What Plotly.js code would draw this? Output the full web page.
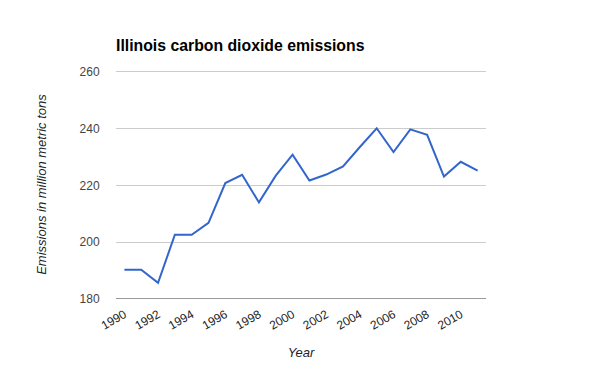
<!DOCTYPE html>
<html>
<head>
<meta charset="utf-8">
<script src="https://cdn.plot.ly/plotly-3.0.1.min.js"></script>
<style>html,body{margin:0;padding:0;background:#fff;}#chart{width:600px;height:371px;}</style>
</head>
<body>
<div id="chart"></div>
<script>
const years = [1990,1991,1992,1993,1994,1995,1996,1997,1998,1999,2000,2001,2002,2003,2004,2005,2006,2007,2008,2009,2010,2011];
const emissions = [190.3,190.3,185.7,202.6,202.6,206.8,220.8,223.7,214.0,223.4,230.8,221.7,223.8,226.7,233.5,240.1,231.7,239.7,237.8,223.1,228.3,225.2];
const xTickVals = [1990,1992,1994,1996,1998,2000,2002,2004,2006,2008,2010];
const yTickVals = [180,200,220,240,260];
const FONT = 'Arial, "Liberation Sans", sans-serif';

const trace = {
  x: years, y: emissions, type: 'scatter', mode: 'lines',
  line: {color: '#3366cc', width: 2},
  hoverinfo: 'x+y'
};
const layout = {
  width: 600, height: 371,
  margin: {l: 116, r: 114, t: 70, b: 72},
  paper_bgcolor: '#fff', plot_bgcolor: '#fff',
  font: {family: FONT, size: 12, color: '#444'},
  showlegend: false,
  title: {
    text: '<b>Illinois carbon dioxide emissions</b>',
    font: {family: FONT, size: 15.8, color: '#000'},
    xref: 'paper', x: 0, xanchor: 'left',
    yref: 'container', y: 1 - 45/371, yanchor: 'middle'
  },
  xaxis: {
    range: [1989.5, 2011.5],
    tickvals: xTickVals, ticktext: xTickVals.map(String),
    tickangle: -30, showgrid: false, zeroline: false,
    showline: false, ticks: 'outside', ticklen: 3, tickcolor: 'rgba(0,0,0,0)',
    tickfont: {family: FONT, size: 12, color: '#222'},
    title: {text: '<i>Year</i>', standoff: 16, font: {family: FONT, size: 13, color: '#222'}}
  },
  yaxis: {
    range: [180, 260.6],
    tickvals: yTickVals, ticktext: yTickVals.map(String),
    showgrid: true, gridcolor: '#cccccc', gridwidth: 1,
    zeroline: false, showline: false,
    ticks: 'outside', ticklen: 13, tickcolor: 'rgba(0,0,0,0)',
    tickfont: {family: FONT, size: 12, color: '#444'},
    title: {text: '<i>Emissions in million metric tons</i>', standoff: 30, font: {family: FONT, size: 13, color: '#222'}}
  },
  shapes: [{
    type: 'line', xref: 'paper', yref: 'y', x0: 0, x1: 1, y0: 180, y1: 180,
    line: {color: '#333333', width: 1}
  }]
};
Plotly.newPlot('chart', [trace], layout, {displayModeBar: false, staticPlot: true});
</script>
</body>
</html>
